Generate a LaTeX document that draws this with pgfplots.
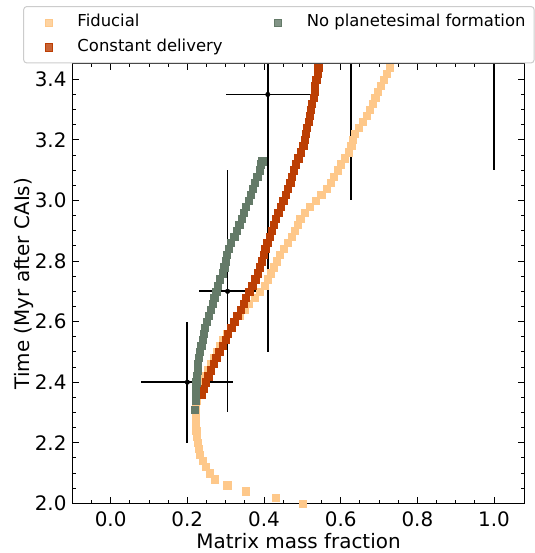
\documentclass[border=0pt]{standalone}
\usepackage{pgfplots}
\pgfplotsset{compat=1.18}
\usepackage{fontspec}
\setmainfont{DejaVu Sans}
\definecolor{fid}{RGB}{254,200,138}
\definecolor{cst}{RGB}{188,62,3}
\definecolor{npf}{RGB}{100,122,104}
\definecolor{legframe}{RGB}{204,204,204}

\begin{document}
\begin{tikzpicture}
\begin{axis}[
  at={(0,0)}, anchor=south west,
  scale only axis, width=451.6bp, height=439.3bp,
  xmin=-0.099, xmax=1.079, ymin=2.0, ymax=3.4506,
  xtick distance=0.2, ytick distance=0.2,
  minor tick num=3,
  tick align=inside, tick pos=both,
  major tick length=6bp, minor tick length=3.5bp,
  every tick/.style={black, line width=0.9bp},
  axis line style={line width=1bp},
  /pgf/number format/assume math mode=true,
  xticklabel style={/pgf/number format/fixed, /pgf/number format/fixed zerofill, /pgf/number format/precision=1,
     font=\fontsize{20}{24}\selectfont, anchor=base, yshift=-23.4bp, inner sep=0pt},
  yticklabel style={/pgf/number format/fixed, /pgf/number format/fixed zerofill, /pgf/number format/precision=1,
     font=\fontsize{20}{24}\selectfont, anchor=east, inner sep=0pt, xshift=-6bp},
  xlabel={Matrix mass fraction},
  ylabel={Time (Myr after CAIs)},
  xlabel style={font=\fontsize{20}{24}\selectfont, at={(axis description cs:0.5,-0.1022)}, anchor=base, inner sep=0pt},
  ylabel style={font=\fontsize{20}{24}\selectfont, at={(axis description cs:-0.1078,0.5)}, anchor=center, rotate=0, inner sep=0pt},
  legend columns=2,
  legend cell align=left,
  legend image code/.code={\path[draw=none] (-16bp,0bp) -- (16bp,0bp); \path[#1] plot[only marks] coordinates {(0bp,0bp)};},
  legend style={at={(axis description cs:0,1)}, anchor=north west, xshift=-49.5bp, yshift=57.9bp,
     font=\fontsize{16.5}{19}\selectfont,
     draw=legframe, line width=1bp, rounded corners=3bp, fill=white, fill opacity=0.8, text opacity=1,
     inner xsep=8.6bp, inner ysep=7.7bp, row sep=8.9bp,
     nodes={inner xsep=0pt, inner ysep=0pt, text height=12bp, text depth=4bp},
     /tikz/every odd column/.append style={column sep=13.2bp},
     /tikz/every even column/.append style={column sep=39bp}},
  mksq/.style={only marks, mark=square*, mark size=3.6bp, color=#1, mark options={draw=#1, fill=#1, line width=0.2bp}},
]
\addlegendimage{mksq=fid}
\addlegendentry{Fiducial}
\addlegendimage{mksq=npf}
\addlegendentry{No planetesimal formation}
\addlegendimage{mksq=cst}
\addlegendentry{Constant delivery}

\addplot[mksq=fid, forget plot] coordinates {
(0.501,2.00) (0.431,2.02) (0.353,2.04) (0.304,2.06) (0.272,2.08) (0.259,2.10) (0.247,2.12) (0.239,2.14)
(0.233,2.16) (0.230,2.18) (0.227,2.20) (0.225,2.22) (0.223,2.24) (0.222,2.26) (0.221,2.28) (0.221,2.30)
(0.222,2.32) (0.224,2.34) (0.228,2.36) (0.233,2.38) (0.239,2.40) (0.246,2.42) (0.253,2.44) (0.260,2.46)
(0.268,2.48) (0.276,2.50) (0.284,2.52) (0.293,2.54) (0.303,2.56) (0.313,2.58) (0.324,2.60) (0.336,2.62)
(0.348,2.64) (0.360,2.66) (0.375,2.68) (0.389,2.70) (0.401,2.72) (0.409,2.74) (0.417,2.76) (0.424,2.78)
(0.432,2.80) (0.441,2.82) (0.451,2.84) (0.461,2.86) (0.471,2.88) (0.480,2.90) (0.488,2.92) (0.494,2.94)
(0.506,2.96) (0.519,2.98) (0.534,3.00) (0.549,3.02) (0.563,3.04) (0.573,3.06) (0.581,3.08) (0.591,3.10)
(0.600,3.12) (0.610,3.14) (0.620,3.16) (0.627,3.18) (0.631,3.20) (0.637,3.22) (0.647,3.24) (0.658,3.26)
(0.667,3.28) (0.676,3.30) (0.683,3.32) (0.690,3.34) (0.697,3.36) (0.704,3.38) (0.712,3.40) (0.720,3.42)
(0.727,3.44) (0.733,3.46)
};
\addplot[mksq=cst, forget plot] coordinates {
(0.238,2.36) (0.243,2.38) (0.248,2.40) (0.254,2.42) (0.261,2.44) (0.268,2.46) (0.275,2.48) (0.283,2.50)
(0.291,2.52) (0.299,2.54) (0.306,2.56) (0.314,2.58) (0.322,2.60) (0.330,2.62) (0.338,2.64) (0.346,2.66)
(0.353,2.68) (0.361,2.70) (0.369,2.72) (0.377,2.74) (0.383,2.76) (0.388,2.78) (0.394,2.80) (0.398,2.82)
(0.403,2.84) (0.408,2.86) (0.414,2.88) (0.419,2.90) (0.425,2.92) (0.431,2.94) (0.437,2.96) (0.443,2.98)
(0.450,3.00) (0.456,3.02) (0.462,3.04) (0.468,3.06) (0.473,3.08) (0.478,3.10) (0.483,3.12) (0.489,3.14)
(0.496,3.16) (0.502,3.18) (0.506,3.20) (0.509,3.22) (0.512,3.24) (0.516,3.26) (0.519,3.28) (0.522,3.30)
(0.525,3.32) (0.529,3.34) (0.531,3.36) (0.533,3.38) (0.536,3.40) (0.539,3.42) (0.541,3.44) (0.544,3.46)
};
\addplot[mksq=npf, forget plot] coordinates {
(0.220,2.31) (0.221,2.34) (0.221,2.36) (0.222,2.38) (0.223,2.40) (0.224,2.42) (0.226,2.44) (0.227,2.46)
(0.229,2.48) (0.232,2.50) (0.236,2.52) (0.240,2.54) (0.243,2.56) (0.246,2.58) (0.250,2.60) (0.255,2.62)
(0.260,2.64) (0.265,2.66) (0.270,2.68) (0.275,2.70) (0.280,2.72) (0.285,2.74) (0.291,2.76) (0.296,2.78)
(0.300,2.80) (0.303,2.82) (0.307,2.84) (0.312,2.86) (0.322,2.88) (0.328,2.90) (0.335,2.92) (0.342,2.94)
(0.347,2.96) (0.353,2.98) (0.359,3.00) (0.365,3.02) (0.371,3.04) (0.376,3.06) (0.382,3.08) (0.388,3.10)
(0.392,3.12) (0.395,3.13)
};
\addplot[only marks, black, mark=*, mark size=2.3bp, forget plot,
  error bars/.cd, x dir=both, x explicit, y dir=both, y explicit, error mark=none,
  error bar style={line width=1.8bp, black, solid}]
  table[x=x, y=y, x error=ex, y error=ey] {
x     y     ex    ey
0.200 2.40  0.120 0.20
0.305 2.70  0.075 0.40
0.410 3.35  0.110 0.85
0.626 3.55  0.100 0.55
1.000 3.60  0.100 0.50
};
\end{axis}
\pgfresetboundingbox
\path[use as bounding box] (-72.7bp,-49.7bp) rectangle (462.3bp,503.3bp);
\end{tikzpicture}
\end{document}
